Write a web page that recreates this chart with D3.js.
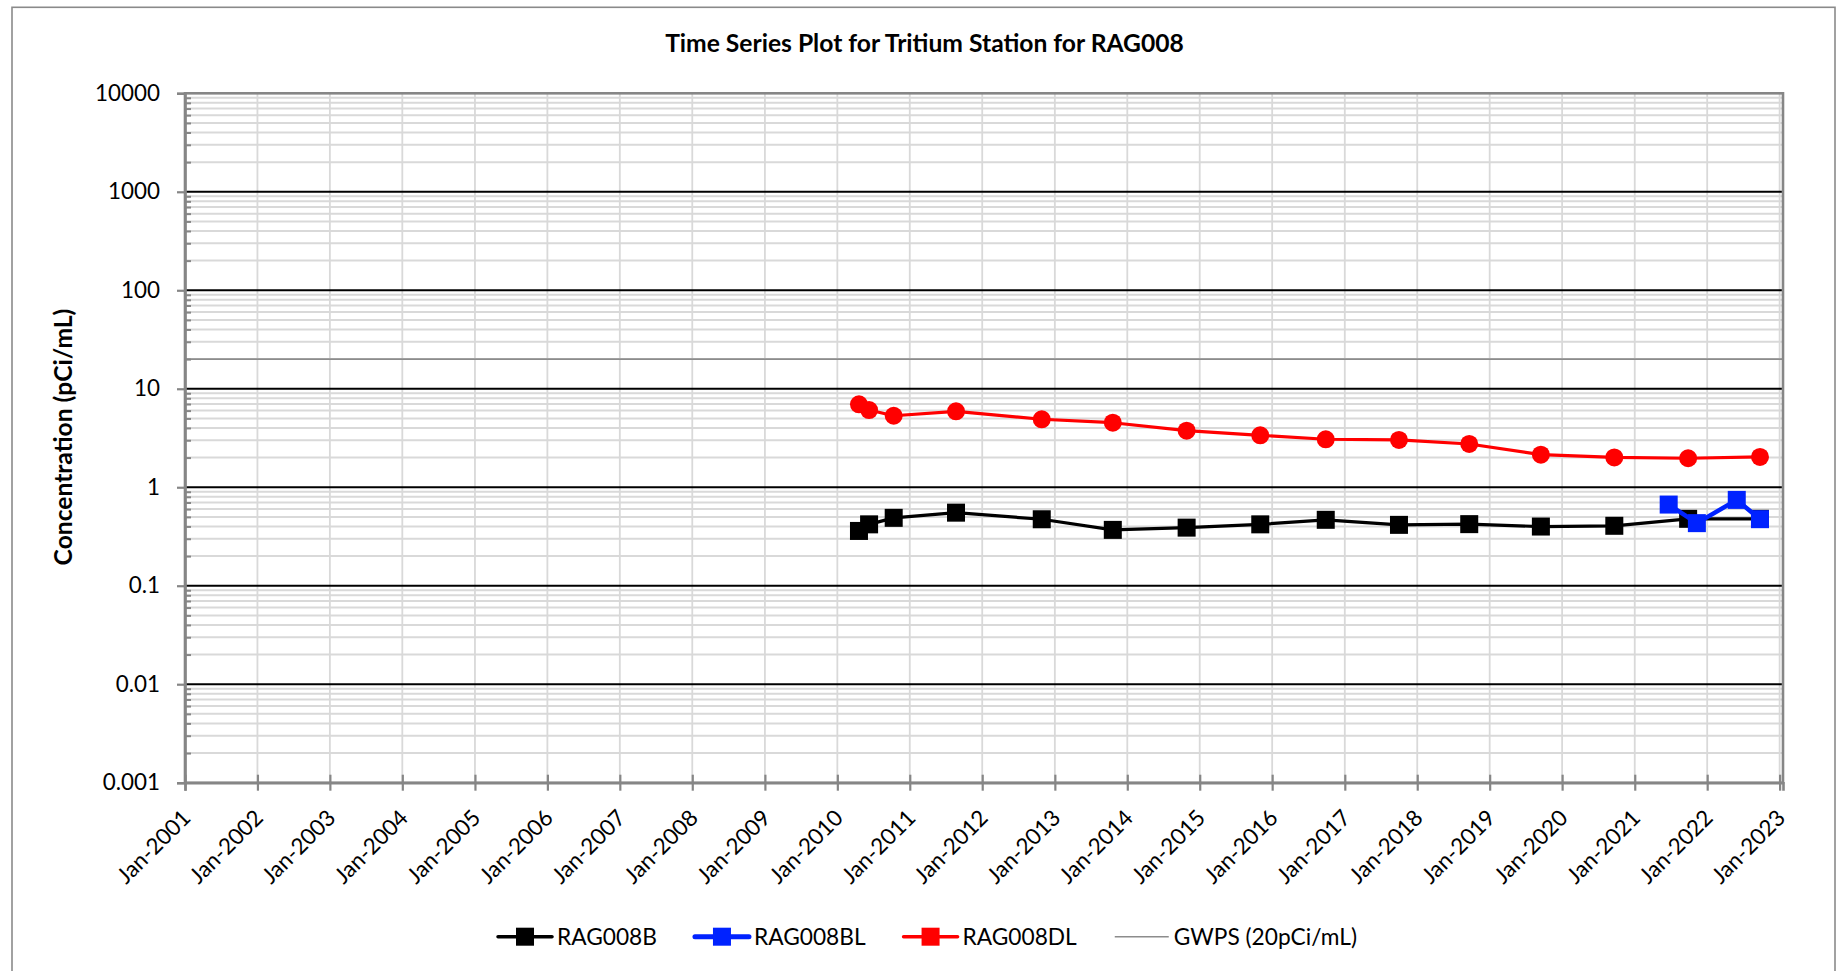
<!DOCTYPE html>
<html><head><meta charset="utf-8">
<script src="https://cdn.jsdelivr.net/npm/d3@7"></script>
<style>
html,body{margin:0;padding:0;background:#fff;}
svg{display:block;}
text{font-family:Lato,"Open Sans",sans-serif;fill:#000;}
</style></head><body>
<svg id="chart" width="1837" height="971"></svg>
<script>
// ---------------- DATA ----------------
const chartTitle = "Time Series Plot for Tritium Station for RAG008";
const yAxisTitle = "Concentration (pCi/mL)";
const seriesNames = ["RAG008B", "RAG008BL", "RAG008DL", "GWPS (20pCi/mL)"];

const sampleDates = ["2010-04-20","2010-06-10","2010-10-12","2011-08-22","2012-10-27","2013-10-20",
  "2014-10-27","2015-11-02","2016-09-27","2017-10-01","2018-09-20","2019-09-16","2020-09-20",
  "2021-09-27","2022-09-24"];
const rag008B  = [0.36, 0.42, 0.489, 0.552, 0.473, 0.369, 0.389, 0.42, 0.467, 0.415, 0.422, 0.399, 0.406, 0.478, 0.478];
const rag008DL = [6.95, 6.08, 5.32, 5.9, 4.9, 4.52, 3.75, 3.37, 3.07, 3.02, 2.75, 2.14, 2.01, 1.97, 2.03];

const rag008BLDates = ["2021-06-21","2021-11-10","2022-05-30","2022-09-24"];
const rag008BL = [0.667, 0.432, 0.744, 0.474];

const gwpsValue = 20;

const yTickValues = [0.001, 0.01, 0.1, 1, 10, 100, 1000, 10000];
const yTickLabels = ["0.001","0.01","0.1","1","10","100","1000","10000"];
const xTickLabels = ["Jan-2001","Jan-2002","Jan-2003","Jan-2004","Jan-2005","Jan-2006","Jan-2007",
  "Jan-2008","Jan-2009","Jan-2010","Jan-2011","Jan-2012","Jan-2013","Jan-2014","Jan-2015","Jan-2016",
  "Jan-2017","Jan-2018","Jan-2019","Jan-2020","Jan-2021","Jan-2022","Jan-2023"];

// ---------------- LAYOUT ----------------
const W = 1837, H = 971;
const plot = {left: 185, right: 1783, top: 93.3, bottom: 782.7};
const svg = d3.select("#chart");
const parseDay = d3.utcParse("%Y-%m-%d");
const parseTick = d3.utcParse("%b-%Y");
const xTickDates = xTickLabels.map(parseTick);

const x = d3.scaleUtc()
  .domain([xTickDates[0], parseDay("2023-01-18")])
  .range([plot.left, plot.right]);
const y = d3.scaleLog().domain([0.001, 10000]).range([plot.bottom, plot.top]);

// font fitting helper
function fitSize(str, target, weight) {
  const t = svg.append("text").attr("font-size", 20).attr("font-weight", weight || "normal").text(str);
  const w = t.node().getComputedTextLength();
  t.remove();
  return 20 * target / w;
}
const axisFont = fitSize("10000", 65, "normal");
const titleFont = fitSize(chartTitle, 519, "bold");
const yTitleFont = fitSize(yAxisTitle, 257, "bold");
const legendFont = fitSize("RAG008B", 100, "normal");

// outer chart border
svg.append("rect").attr("x", 12).attr("y", 7.3).attr("width", 1823).attr("height", 1000)
  .attr("fill", "#fff").attr("stroke", "#8a8a8a").attr("stroke-width", 1.6);

// title
svg.append("text").attr("x", 924.5).attr("y", 52.3).attr("text-anchor", "middle")
  .attr("font-weight", "bold").attr("font-size", titleFont).text(chartTitle);

// ---------------- GRID ----------------
const grid = svg.append("g");
const minorVals = [];
for (let i = 0; i < yTickValues.length - 1; i++) {
  for (let k = 2; k <= 9; k++) minorVals.push(yTickValues[i] * k);
}
grid.selectAll(".minor").data(minorVals).join("line")
  .attr("x1", plot.left).attr("x2", plot.right)
  .attr("y1", d => y(d)).attr("y2", d => y(d))
  .attr("stroke", "#d9d9d9").attr("stroke-width", 2);
grid.selectAll(".vgrid").data(xTickDates.slice(1)).join("line")
  .attr("x1", d => x(d)).attr("x2", d => x(d))
  .attr("y1", plot.top).attr("y2", plot.bottom)
  .attr("stroke", "#d9d9d9").attr("stroke-width", 1.8);
grid.selectAll(".major").data(yTickValues.slice(1, -1)).join("line")
  .attr("x1", plot.left).attr("x2", plot.right)
  .attr("y1", d => y(d)).attr("y2", d => y(d))
  .attr("stroke", "#000").attr("stroke-width", 2);
grid.append("line").attr("x1", plot.left).attr("x2", plot.right)
  .attr("y1", y(gwpsValue)).attr("y2", y(gwpsValue))
  .attr("stroke", "#8c8c8c").attr("stroke-width", 1.6);

svg.append("rect").attr("x", plot.left).attr("y", plot.top)
  .attr("width", plot.right - plot.left).attr("height", plot.bottom - plot.top)
  .attr("fill", "none").attr("stroke", "#868686").attr("stroke-width", 2.6);

// ---------------- AXES ----------------
const axisColor = "#868686";
const yAxis = d3.axisLeft(y).tickValues(yTickValues)
  .tickFormat((d, i) => yTickLabels[i]).tickSize(8).tickPadding(17);
const gy = svg.append("g").attr("transform", `translate(${plot.left},0)`).call(yAxis);
gy.select(".domain").attr("stroke", axisColor).attr("stroke-width", 2.6);
gy.selectAll(".tick line").attr("stroke", axisColor).attr("stroke-width", 2.2);
gy.selectAll(".tick text").attr("font-family", "Lato,'Open Sans',sans-serif")
  .attr("font-size", axisFont).attr("fill", "#000");
const yMinor = d3.axisRight(y).tickValues(minorVals).tickFormat("").tickSize(6);
const gym = svg.append("g").attr("transform", `translate(${plot.left},0)`).call(yMinor);
gym.select(".domain").remove();
gym.selectAll(".tick line").attr("stroke", axisColor).attr("stroke-width", 2);

const xAxis = d3.axisBottom(x).tickValues(xTickDates).tickFormat((d, i) => xTickLabels[i]).tickSize(8);
const gx = svg.append("g").attr("transform", `translate(0,${plot.bottom})`).call(xAxis);
gx.select(".domain").attr("stroke", axisColor).attr("stroke-width", 2.6);
gx.selectAll(".tick line").attr("y1", -8).attr("y2", 8).attr("stroke", axisColor).attr("stroke-width", 2.2);
gx.selectAll(".tick text").attr("font-family", "Lato,'Open Sans',sans-serif")
  .attr("font-size", axisFont).attr("fill", "#000")
  .attr("x", 0).attr("y", 0).attr("dy", "0.35em").attr("text-anchor", "end")
  .attr("transform", "translate(1,31) rotate(-45)");

svg.append("text").attr("transform", "translate(63,437) rotate(-90)")
  .attr("text-anchor", "middle").attr("dy", "0.35em")
  .attr("font-weight", "bold").attr("font-size", yTitleFont).text(yAxisTitle);

// ---------------- SERIES ----------------
const seriesB = sampleDates.map((d, i) => ({date: parseDay(d), v: rag008B[i]}));
const seriesDL = sampleDates.map((d, i) => ({date: parseDay(d), v: rag008DL[i]}));
const seriesBL = rag008BLDates.map((d, i) => ({date: parseDay(d), v: rag008BL[i]}));
const line = d3.line().x(d => x(d.date)).y(d => y(d.v));
const sq = 18;

function drawSeries(data, color, width, marker) {
  const g = svg.append("g");
  g.append("path").datum(data).attr("d", line).attr("fill", "none")
    .attr("stroke", color).attr("stroke-width", width).attr("stroke-linejoin", "round");
  if (marker === "square") {
    g.selectAll("rect").data(data).join("rect")
      .attr("x", d => x(d.date) - sq / 2).attr("y", d => y(d.v) - sq / 2)
      .attr("width", sq).attr("height", sq).attr("fill", color);
  } else {
    g.selectAll("circle").data(data).join("circle")
      .attr("cx", d => x(d.date)).attr("cy", d => y(d.v)).attr("r", 9).attr("fill", color);
  }
}
drawSeries(seriesB, "#000000", 3.2, "square");
drawSeries(seriesBL, "#0022ff", 4.5, "square");
drawSeries(seriesDL, "#ff0000", 3.2, "circle");

// ---------------- LEGEND ----------------
const legendItems = [
  {name: seriesNames[0], color: "#000000", width: 3.5, marker: true},
  {name: seriesNames[1], color: "#0022ff", width: 5, marker: true},
  {name: seriesNames[2], color: "#ff0000", width: 3.5, marker: true},
  {name: seriesNames[3], color: "#8c8c8c", width: 1.6, marker: false}
];
const legY = 936.7, lineLen = 54, textGap = 5, itemGap = 38;
const leg = svg.append("g");
let widths = legendItems.map(it => {
  const t = svg.append("text").attr("font-size", legendFont).text(it.name);
  const w = t.node().getComputedTextLength(); t.remove(); return w;
});
const total = d3.sum(widths) + legendItems.length * (lineLen + textGap) + (legendItems.length - 1) * itemGap;
let lx = 927.5 - total / 2;
legendItems.forEach((it, i) => {
  leg.append("line").attr("x1", lx).attr("x2", lx + lineLen).attr("y1", legY).attr("y2", legY)
    .attr("stroke", it.color).attr("stroke-width", it.width)
    .attr("stroke-linecap", it.marker ? "round" : "butt");
  if (it.marker) {
    leg.append("rect").attr("x", lx + lineLen / 2 - sq / 2).attr("y", legY - sq / 2)
      .attr("width", sq).attr("height", sq).attr("fill", it.color);
  }
  leg.append("text").attr("x", lx + lineLen + textGap).attr("y", legY).attr("dy", "0.35em")
    .attr("font-size", legendFont).text(it.name);
  lx += lineLen + textGap + widths[i] + itemGap;
});
</script>
</body></html>
